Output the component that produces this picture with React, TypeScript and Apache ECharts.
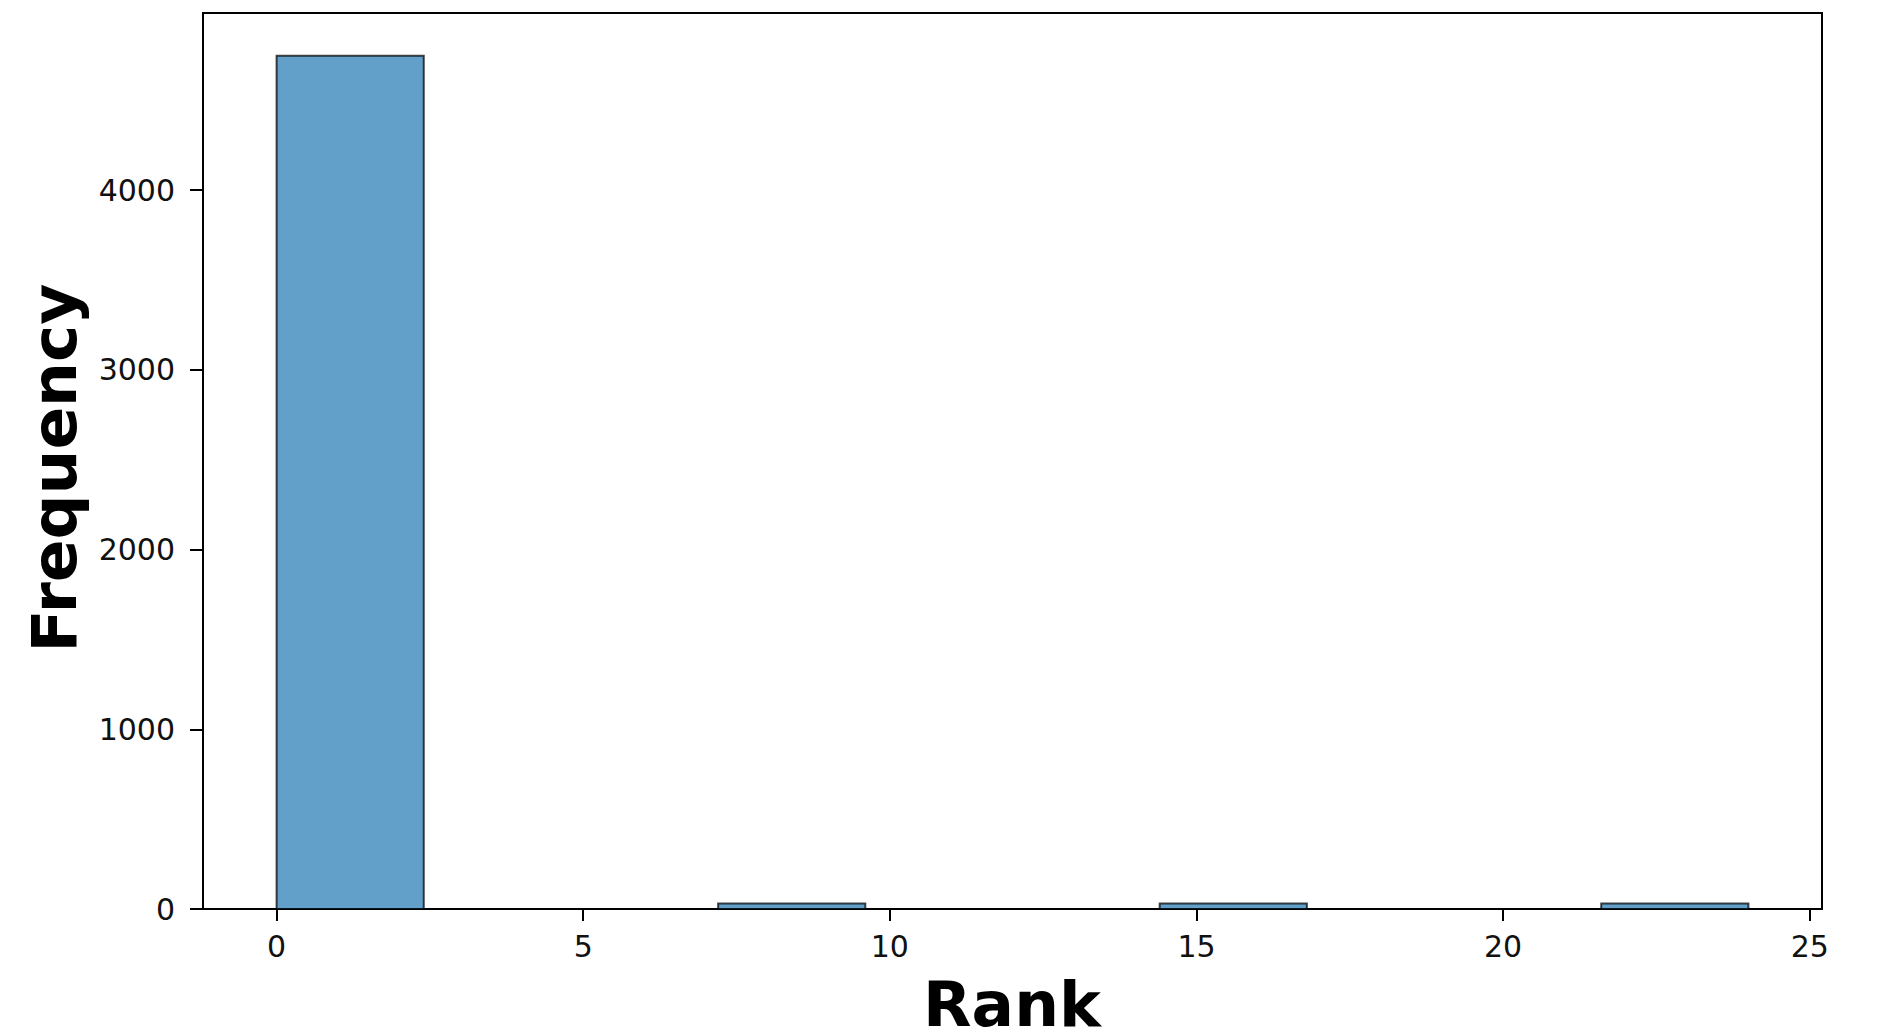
import React, { useEffect, useRef } from "react";
import * as echarts from "echarts";

const binEdges = [0, 2.4, 4.8, 7.2, 9.6, 12, 14.4, 16.8, 19.2, 21.6, 24];
const counts = [4748, 0, 0, 31, 0, 0, 30, 0, 0, 30];
const xTicks = [0, 5, 10, 15, 20, 25];
const yTicks = [0, 1000, 2000, 3000, 4000];
const xLabel = "Rank";
const yLabel = "Frequency";

export default function App() {
  const ref = useRef<HTMLDivElement>(null);
  useEffect(() => {
    document.body.style.margin = "0";
    const chart = echarts.init(ref.current!, undefined, { renderer: "svg" });
    const maxCount = Math.max(...counts);
    const span = binEdges[binEdges.length - 1] - binEdges[0];
    const data = counts.map((c, i) => [binEdges[i], binEdges[i + 1], c]);
    const font = "DejaVu Sans";
    chart.setOption({
      animation: false,
      backgroundColor: "#ffffff",
      grid: {
        left: 203,
        right: 81,
        top: 13,
        bottom: 123,
        show: true,
        borderColor: "#000",
        borderWidth: 2,
        containLabel: false,
      },
      xAxis: {
        type: "value",
        min: binEdges[0] - span * 0.05,
        max: binEdges[binEdges.length - 1] + span * 0.05,
        axisLine: { show: true, onZero: false, lineStyle: { color: "#000", width: 2 } },
        axisTick: {
          show: true,
          customValues: xTicks,
          length: 12,
          lineStyle: { color: "#000", width: 2 },
        },
        axisLabel: {
          customValues: xTicks,
          fontFamily: font,
          fontSize: 30,
          color: "#111",
          margin: 22,
          formatter: (v: number) => String(v),
        },
        splitLine: { show: false },
      },
      yAxis: {
        type: "value",
        min: 0,
        max: maxCount * 1.05,
        axisLine: { show: true, onZero: false, lineStyle: { color: "#000", width: 2 } },
        axisTick: {
          show: true,
          customValues: yTicks,
          length: 13,
          lineStyle: { color: "#000", width: 2 },
        },
        axisLabel: {
          customValues: yTicks,
          fontFamily: font,
          fontSize: 30,
          color: "#111",
          margin: 28,
          formatter: (v: number) => String(v),
        },
        splitLine: { show: false },
      },
      graphic: [
        {
          type: "text",
          x: 1012,
          y: 1004,
          style: {
            text: xLabel,
            font: `bold 63px ${font}`,
            fill: "#000",
            textAlign: "center",
            textVerticalAlign: "middle",
          },
        },
        {
          type: "text",
          x: 54,
          y: 468,
          rotation: Math.PI / 2,
          style: {
            text: yLabel,
            font: `bold 63px ${font}`,
            fill: "#000",
            textAlign: "center",
            textVerticalAlign: "middle",
          },
        },
      ],
      series: [
        {
          type: "custom",
          data,
          renderItem: (params: any, api: any) => {
            const p0 = api.coord([api.value(0), api.value(2)]);
            const p1 = api.coord([api.value(1), 0]);
            return {
              type: "rect",
              shape: { x: p0[0], y: p0[1], width: p1[0] - p0[0], height: p1[1] - p0[1] },
              style: {
                fill: "rgba(31,119,180,0.7)",
                stroke: "rgba(0,0,0,0.72)",
                lineWidth: 2,
              },
            };
          },
        },
      ],
    });
    return () => chart.dispose();
  }, []);
  return <div ref={ref} style={{ width: 1903, height: 1032 }} />;
}
